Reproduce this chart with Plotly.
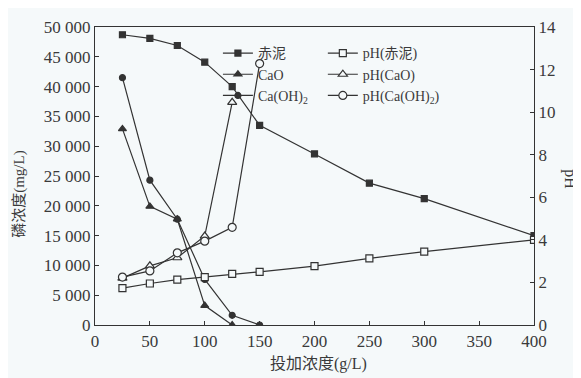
import plotly.graph_objects as go

x_red = [25, 50, 75, 100, 125, 150, 200, 250, 300, 400]
p_red = [48700, 48100, 46900, 44100, 40000, 33500, 28700, 23800, 21200, 15000]
ph_red = [1.73, 1.95, 2.13, 2.25, 2.4, 2.5, 2.77, 3.13, 3.45, 4.0]

x_cao = [25, 50, 75, 100, 125]
p_cao = [32900, 19900, 17750, 3260, 0]
ph_cao = [2.2, 2.78, 3.16, 4.18, 10.46]

x_caoh = [25, 50, 75, 100, 125, 150]
p_caoh = [41500, 24300, 17750, 7650, 1630, 0]
ph_caoh = [2.25, 2.54, 3.39, 3.94, 4.59, 12.28]

y_ticks = [0, 5000, 10000, 15000, 20000, 25000, 30000, 35000, 40000, 45000, 50000]
y_ticktext = ["0", "5 000", "10 000", "15 000", "20 000", "25 000", "30 000", "35 000", "40 000", "45 000", "50 000"]
ph_ticks = [0, 2, 4, 6, 8, 10, 12, 14]
x_ticks = [0, 50, 100, 150, 200, 250, 300, 350, 400]

C = "#333333"
TXT = "#3a3a3a"
BG = "#f5f9fa"
FONT = "Liberation Serif, Noto Sans CJK SC, serif"

fig = go.Figure()

def add(x, y, name, symbol, size, filled, yaxis, legend):
    fig.add_trace(go.Scatter(
        x=x, y=y, name=name, mode="lines+markers", yaxis=yaxis, legend=legend,
        line=dict(color=C, width=1.2),
        marker=dict(symbol=symbol, size=size,
                    color=C if filled else BG,
                    line=dict(color=C, width=1.2)),
    ))

add(x_red, p_red, "赤泥", "square", 6, True, "y", "legend")
add(x_cao, p_cao, "CaO", "triangle-up", 7, True, "y", "legend")
add(x_caoh, p_caoh, "Ca(OH)<sub>2</sub>", "circle", 6, True, "y", "legend")
add(x_red, ph_red, "pH(赤泥)", "square", 7, False, "y2", "legend2")
add(x_cao, ph_cao, "pH(CaO)", "triangle-up", 8, False, "y2", "legend2")
add(x_caoh, ph_caoh, "pH(Ca(OH)<sub>2</sub>)", "circle", 8, False, "y2", "legend2")

axis_common = dict(showgrid=False, zeroline=False, showline=True, linecolor=C, linewidth=1.2,
                   ticks="inside", ticklen=4, tickcolor=C, tickfont=dict(size=17))

fig.update_layout(
    width=573, height=370,
    margin=dict(l=87, r=47, t=10, b=53),
    paper_bgcolor=BG, plot_bgcolor=BG,
    font=dict(family=FONT, size=15, color=TXT),
    xaxis=dict(range=[0, 400], tickvals=x_ticks, mirror=True, **axis_common),
    yaxis=dict(range=[0, 50000], tickvals=y_ticks, ticktext=y_ticktext, **axis_common),
    yaxis2=dict(range=[0, 14], tickvals=ph_ticks, overlaying="y", side="right", **axis_common),
    legend=dict(x=0.28, y=0.965, xanchor="left", yanchor="top", bgcolor="rgba(0,0,0,0)",
                font=dict(size=14), tracegroupgap=0, itemwidth=30),
    legend2=dict(x=0.519, y=0.965, xanchor="left", yanchor="top", bgcolor="rgba(0,0,0,0)",
                 font=dict(size=14), tracegroupgap=0, itemwidth=30),
    annotations=[
        dict(text="磷浓度(mg/L)", xref="paper", yref="paper", x=-0.171, y=0.44,
             xanchor="center", yanchor="middle",
             textangle=-90, showarrow=False, font=dict(size=15)),
        dict(text="pH", xref="paper", yref="paper", x=1.082, y=0.489,
             xanchor="center", yanchor="middle",
             textangle=90, showarrow=False, font=dict(size=16)),
        dict(text="投加浓度(g/L)", xref="paper", yref="paper", x=0.508, y=-0.13,
             xanchor="center", yanchor="middle", showarrow=False, font=dict(size=16)),
    ],
)

fig.write_html("out.html")
